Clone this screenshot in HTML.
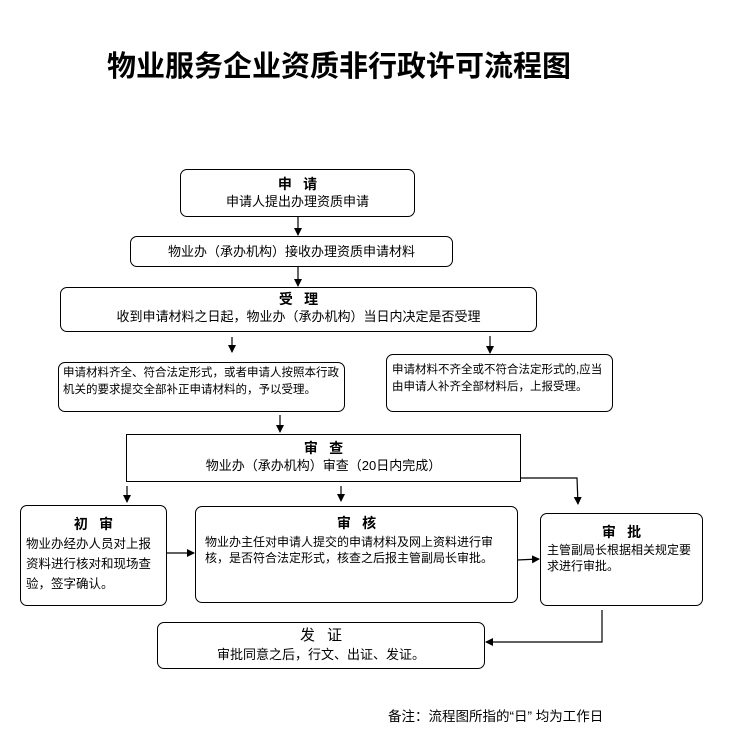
<!DOCTYPE html>
<html><head><meta charset="utf-8"><style>
body{margin:0;width:739px;height:751px;background:#fff;position:relative;font-family:"Liberation Sans","Noto Sans CJK SC",sans-serif;color:#000;overflow:hidden}
.b{position:absolute;border:1.3px solid #000;border-radius:7px;box-sizing:border-box;text-align:center;font-size:13px;line-height:17px}
.t{font-weight:bold;font-size:14px;letter-spacing:0.8em;text-indent:0.8em}
.l{text-align:left}
</style></head><body>
<div style="position:absolute;left:107px;top:43px;font-size:29px;font-weight:bold;white-space:nowrap">物业服务企业资质非行政许可流程图</div>

<div class="b" style="left:180px;top:169px;width:235px;height:48px;padding-top:6px"><div class="t">申请</div>申请人提出办理资质申请</div>
<div class="b" style="left:130px;top:236px;width:323px;height:31px;padding-top:6px">物业办（承办机构）接收办理资质申请材料</div>
<div class="b" style="left:60px;top:287px;width:477px;height:45px;padding-top:3px"><div class="t">受理</div>收到申请材料之日起，物业办（承办机构）当日内决定是否受理</div>
<div class="b l" style="left:58px;top:362px;width:287px;height:50px;padding:2px 4px;font-size:11.5px;line-height:17px">申请材料齐全、符合法定形式，或者申请人按照本行政机关的要求提交全部补正申请材料的，予以受理。</div>
<div class="b l" style="left:386px;top:354px;width:227px;height:58px;padding:7px 5px;font-size:11.5px;line-height:17px">申请材料不齐全或不符合法定形式的,应当由申请人补齐全部材料后，上报受理。</div>
<div class="b" style="left:126px;top:434px;width:395px;height:48px;border-radius:0;padding-top:5px"><div class="t">审查</div>物业办（承办机构）审查（20日内完成）</div>
<div class="b l" style="left:20px;top:505px;width:147px;height:101px;padding:8px 5px;font-size:12.5px;line-height:20px"><div class="t" style="text-align:center">初审</div>物业办经办人员对上报资料进行核对和现场查验，签字确认。</div>
<div class="b l" style="left:195px;top:506px;width:323px;height:97px;padding:8px 9px;font-size:12px;line-height:16px"><div class="t" style="text-align:center;margin-bottom:3px">审核</div>物业办主任对申请人提交的申请材料及网上资料进行审核，是否符合法定形式，核查之后报主管副局长审批。</div>
<div class="b l" style="left:540px;top:513px;width:163px;height:93px;padding:10px 6px;font-size:12px;line-height:16px"><div class="t" style="text-align:center;margin-bottom:2px">审批</div>主管副局长根据相关规定要求进行审批。</div>
<div class="b" style="left:157px;top:622px;width:328px;height:47px;padding-top:3px"><div style="font-size:15px;line-height:20px;letter-spacing:0.8em;text-indent:0.8em">发证</div>审批同意之后，行文、出证、发证。</div>
<div style="position:absolute;left:388px;top:705px;font-size:13.5px">备注：流程图所指的“日” 均为工作日</div>

<svg width="739" height="751" style="position:absolute;left:0;top:0" fill="#000" stroke="#000" stroke-width="1.2">
<defs><marker id="a" markerWidth="8" markerHeight="8" refX="7" refY="4" orient="auto" markerUnits="userSpaceOnUse"><path d="M0,0L8,4L0,8z" stroke="none"/></marker></defs>
<g fill="none" marker-end="url(#a)">
<line x1="298" y1="217" x2="298" y2="235"/>
<line x1="298" y1="267" x2="298" y2="286"/>
<line x1="232" y1="337" x2="232" y2="352"/>
<line x1="490" y1="336" x2="490" y2="353"/>
<line x1="280" y1="415" x2="280" y2="432"/>
<line x1="127" y1="486" x2="127" y2="502"/>
<line x1="341" y1="486" x2="341" y2="501"/>
<polyline points="521,478 577,478 578,504"/>
<line x1="166" y1="553" x2="194" y2="553"/>
<line x1="517" y1="560" x2="539" y2="559"/>
<polyline points="602,610 602,642 486,642"/>
</g></svg>
</body></html>
